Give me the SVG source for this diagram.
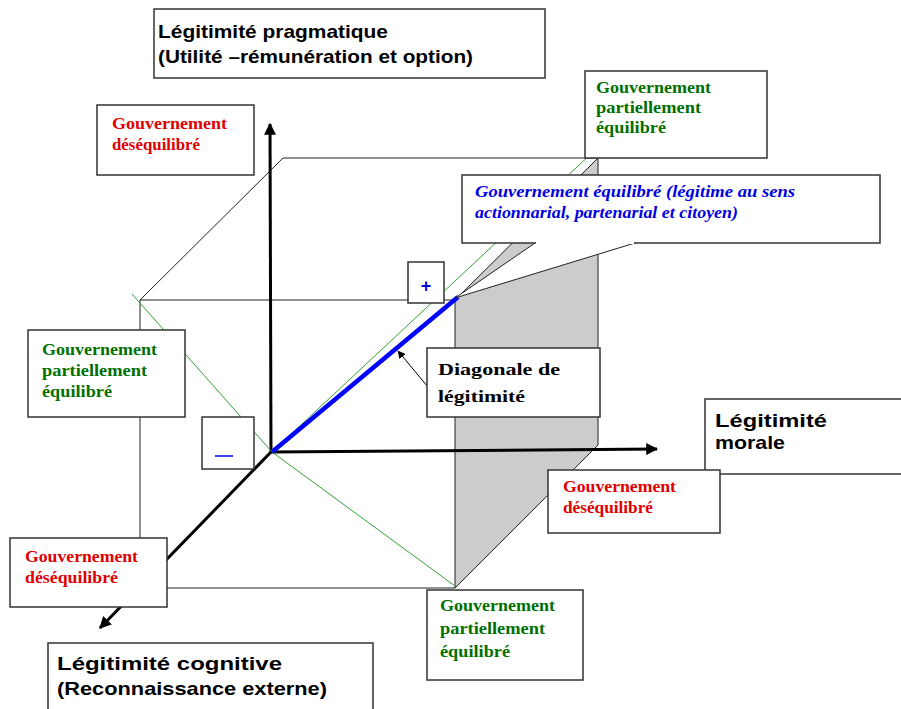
<svg xmlns="http://www.w3.org/2000/svg" width="901" height="709" viewBox="0 0 901 709">
<defs>
<marker id="ah" viewBox="0 0 10 10" refX="9" refY="5" markerWidth="4" markerHeight="4" orient="auto" markerUnits="strokeWidth"><path d="M0,0 L10,5 L0,10 z" fill="#000"/></marker>
<marker id="ahs" viewBox="0 0 10 10" refX="9" refY="5" markerWidth="8" markerHeight="8" orient="auto" markerUnits="strokeWidth"><path d="M0,0 L10,5 L0,10 z" fill="#000"/></marker>
</defs>
<style>
.box{fill:#fff;stroke:#333;stroke-width:1.5}
.cube{fill:none;stroke:#222;stroke-width:1}
.axis{stroke:#000;stroke-width:3;fill:none}
.green{stroke:#33a033;stroke-width:1;fill:none}
.t{font-family:"Liberation Serif",serif;font-weight:bold;font-size:16px}
.red{fill:#e00000}
.grn{fill:#007000}
.big{font-family:"Liberation Sans",Arial,sans-serif;font-weight:bold;font-size:19px;fill:#000}
.blue{font-family:"Liberation Serif",serif;font-weight:bold;font-style:italic;font-size:16px;fill:#0000e0}
</style>
<rect width="901" height="709" fill="#fff"/>
<g id="cube">
<polygon points="455,300 598,158 598,445 455,588" fill="#cccccc" stroke="#222" stroke-width="1"/>
<polyline class="cube" points="455,300 140,300 140,588 455,588"/>
<polyline class="cube" points="140,300 283,158 598,158"/>
</g>
<g id="connectors">
<line class="axis" x1="271" y1="452" x2="270" y2="124" marker-end="url(#ah)"/>
<line class="axis" x1="271" y1="452" x2="657" y2="449" marker-end="url(#ah)"/>
<line class="axis" x1="271" y1="452" x2="100" y2="628" marker-end="url(#ah)"/>
<polyline class="green" points="132,294 272,452 455,586"/>
<line class="green" x1="272" y1="452" x2="592" y2="153"/>
<line x1="272" y1="452" x2="458" y2="297" stroke="#0000ff" stroke-width="4.5"/>
<line x1="428" y1="387" x2="398" y2="351" stroke="#000" stroke-width="1" marker-end="url(#ahs)"/>
</g>
<g id="n-pragmatique">
<rect class="box" x="154" y="9" width="391" height="69"/>
<text class="big" x="158" y="38" textLength="230" lengthAdjust="spacingAndGlyphs">Légitimité pragmatique</text>
<text class="big" x="158" y="63" textLength="315" lengthAdjust="spacingAndGlyphs">(Utilité –rémunération et option)</text>
</g>
<g id="n-deseq-tl">
<rect x="97" y="105" width="157" height="70" fill="#fff" stroke="#333" stroke-width="1.5"/>
<text class="t red" x="112" y="129" textLength="115" lengthAdjust="spacingAndGlyphs">Gouvernement</text>
<text class="t red" x="112" y="150" textLength="88" lengthAdjust="spacingAndGlyphs">déséquilibré</text>
</g>
<g id="n-partiel-tr">
<rect class="box" x="585" y="71" width="182" height="87"/>
<text class="t grn" x="596" y="93" textLength="115" lengthAdjust="spacingAndGlyphs">Gouvernement</text>
<text class="t grn" x="596" y="113" textLength="105" lengthAdjust="spacingAndGlyphs">partiellement</text>
<text class="t grn" x="596" y="133" textLength="70" lengthAdjust="spacingAndGlyphs">équilibré</text>
</g>
<g id="n-equilibre">
<path d="M535,243 L455,298 L635,243" fill="#fff" stroke="#222" stroke-width="1"/>
<rect class="box" x="462" y="175" width="418" height="68"/>
<line x1="536" y1="243" x2="634" y2="243" stroke="#fff" stroke-width="2"/>
<text class="blue" x="475" y="197" textLength="320" lengthAdjust="spacingAndGlyphs">Gouvernement équilibré (légitime au sens</text>
<text class="blue" x="475" y="218" textLength="263" lengthAdjust="spacingAndGlyphs">actionnarial, partenarial et citoyen)</text>
</g>
<g id="n-plus">
<rect class="box" x="408" y="262" width="36" height="41"/>
<text x="426" y="292" text-anchor="middle" font-family="Liberation Sans,sans-serif" font-weight="bold" font-size="18" fill="#0000e0">+</text>
</g>
<g id="n-diagonale">
<rect class="box" x="427" y="348" width="173" height="69"/>
<text class="t" x="438" y="375" font-size="19" textLength="122" lengthAdjust="spacingAndGlyphs">Diagonale de</text>
<text class="t" x="438" y="402" font-size="19" textLength="87" lengthAdjust="spacingAndGlyphs">légitimité</text>
</g>
<g id="n-partiel-l">
<rect class="box" x="28" y="330" width="157" height="87"/>
<text class="t grn" x="42" y="355" textLength="115" lengthAdjust="spacingAndGlyphs">Gouvernement</text>
<text class="t grn" x="42" y="376" textLength="105" lengthAdjust="spacingAndGlyphs">partiellement</text>
<text class="t grn" x="42" y="397" textLength="70" lengthAdjust="spacingAndGlyphs">équilibré</text>
</g>
<g id="n-minus">
<rect class="box" x="202" y="417" width="52" height="52"/>
<line x1="215" y1="456" x2="233" y2="456" stroke="#0000e0" stroke-width="1.5"/>
</g>
<g id="n-morale">
<rect class="box" x="705" y="399" width="200" height="75"/>
<text class="big" x="715" y="427" textLength="112" lengthAdjust="spacingAndGlyphs">Légitimité</text>
<text class="big" x="715" y="449" textLength="70" lengthAdjust="spacingAndGlyphs">morale</text>
</g>
<g id="n-deseq-r">
<rect class="box" x="548" y="470" width="172" height="63"/>
<text class="t red" x="563" y="492" textLength="113" lengthAdjust="spacingAndGlyphs">Gouvernement</text>
<text class="t red" x="563" y="513" textLength="90" lengthAdjust="spacingAndGlyphs">déséquilibré</text>
</g>
<g id="n-deseq-bl">
<rect class="box" x="10" y="538" width="157" height="69"/>
<text class="t red" x="25" y="562" textLength="113" lengthAdjust="spacingAndGlyphs">Gouvernement</text>
<text class="t red" x="25" y="583" textLength="93" lengthAdjust="spacingAndGlyphs">déséquilibré</text>
</g>
<g id="n-partiel-b">
<rect class="box" x="427" y="590" width="156" height="90"/>
<text class="t grn" x="440" y="611" textLength="115" lengthAdjust="spacingAndGlyphs">Gouvernement</text>
<text class="t grn" x="440" y="634" textLength="105" lengthAdjust="spacingAndGlyphs">partiellement</text>
<text class="t grn" x="440" y="657" textLength="70" lengthAdjust="spacingAndGlyphs">équilibré</text>
</g>
<g id="n-cognitive">
<rect class="box" x="48" y="643" width="325" height="75"/>
<text class="big" x="57" y="670" textLength="225" lengthAdjust="spacingAndGlyphs">Légitimité cognitive</text>
<text class="big" x="57" y="695" textLength="270" lengthAdjust="spacingAndGlyphs">(Reconnaissance externe)</text>
</g>
</svg>
